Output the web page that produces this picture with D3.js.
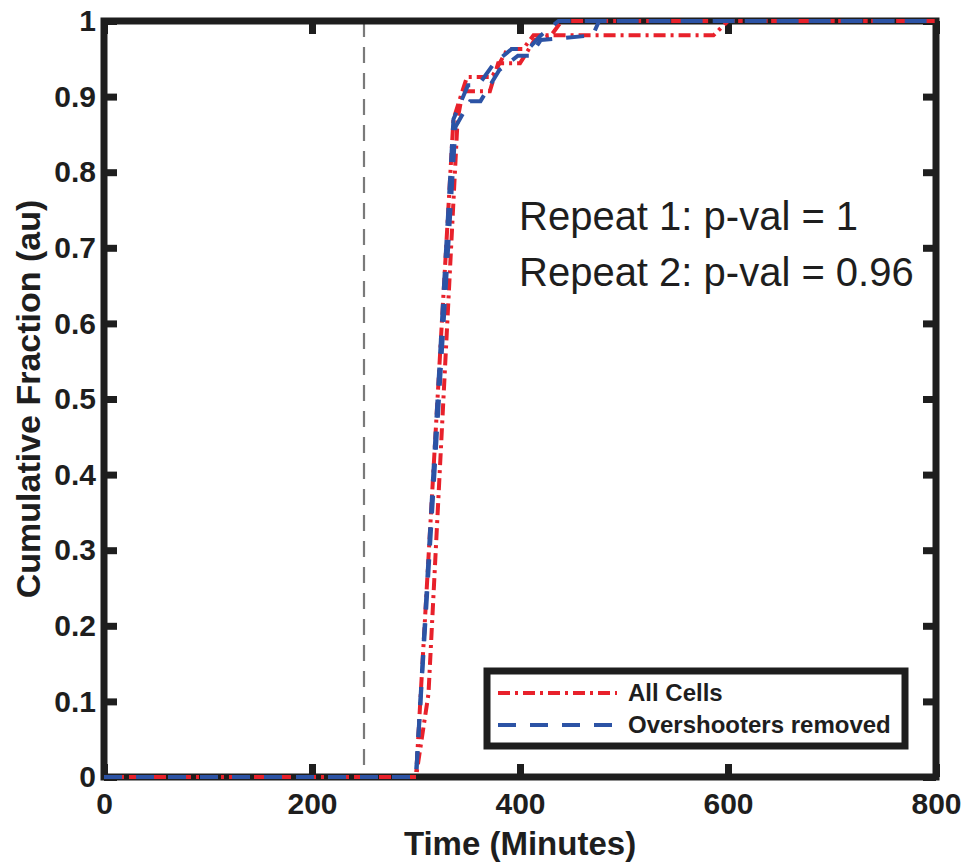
<!DOCTYPE html>
<html>
<head>
<meta charset="utf-8">
<script src="https://cdn.jsdelivr.net/npm/d3@7/dist/d3.min.js"></script>
<style>
  body { margin: 0; background: #fff; }
  svg { display: block; font-family: "Liberation Sans", Arial, sans-serif; }
</style>
</head>
<body>
<svg id="chart" width="963" height="863"></svg>
<script>
// Cumulative fraction data (two repeats per condition)
const redRep1Time = [0, 300, 336, 349, 373, 388, 403, 413, 586, 600, 800];
const redRep1Frac = [0, 0, 0.87, 0.926, 0.926, 0.963, 0.963, 0.981, 0.981, 1, 1];

const redRep2Time = [0, 300, 312, 340, 345, 371, 379, 400, 414, 430, 440, 800];
const redRep2Frac = [0, 0, 0.11, 0.87, 0.907, 0.907, 0.944, 0.944, 0.975, 0.981, 1, 1];

const blueRep1Time = [0, 300, 336, 350, 360, 375, 392, 408, 420, 437, 800];
const blueRep1Frac = [0, 0, 0.87, 0.915, 0.915, 0.944, 0.963, 0.963, 0.981, 1, 1];

const blueRep2Time = [0, 300, 338, 352, 362, 380, 398, 410, 420, 470, 476, 800];
const blueRep2Frac = [0, 0, 0.86, 0.894, 0.894, 0.935, 0.954, 0.954, 0.975, 0.981, 1, 1];

const cutoffTime = 250;
const xTicks = [0, 200, 400, 600, 800];
const yTicks = [0, 0.1, 0.2, 0.3, 0.4, 0.5, 0.6, 0.7, 0.8, 0.9, 1];
const legendLabels = ["All Cells", "Overshooters removed"];
const annotations = ["Repeat 1: p-val = 1", "Repeat 2: p-val = 0.96"];

const RED = "#e8212b";
const BLUE = "#2c53a5";
const INK = "#1e1e1e";
const redDash = "12,5,3,5";
const blueDash = "18,14";

const svg = d3.select("#chart");

const x = d3.scaleLinear().domain([0, 800]).range([104, 936]);
const y = d3.scaleLinear().domain([0, 1]).range([777, 21]);

// dashed cutoff line
svg.append("line")
    .attr("x1", x(cutoffTime)).attr("x2", x(cutoffTime))
    .attr("y1", y(1)).attr("y2", y(0))
    .attr("stroke", "#7a7a7a")
    .attr("stroke-width", 2.2)
    .attr("stroke-dasharray", "16,10");

// axes (ticks pointing inward, box style)
const axisB = svg.append("g")
    .attr("transform", `translate(0,${y(0)})`)
    .call(d3.axisBottom(x).tickValues(xTicks).tickSize(-13).tickPadding(16).tickFormat(d3.format("d")));
const axisT = svg.append("g")
    .attr("transform", `translate(0,${y(1)})`)
    .call(d3.axisTop(x).tickValues(xTicks).tickSize(-13).tickFormat(""));
const axisL = svg.append("g")
    .attr("transform", `translate(${x(0)},0)`)
    .call(d3.axisLeft(y).tickValues(yTicks).tickSize(-13).tickPadding(8)
        .tickFormat(d => (d === 0 || d === 1) ? String(d) : d.toFixed(1)));
const axisR = svg.append("g")
    .attr("transform", `translate(${x(800)},0)`)
    .call(d3.axisRight(y).tickValues(yTicks).tickSize(-13).tickFormat(""));

[axisB, axisT, axisL, axisR].forEach(g => {
    g.select(".domain").remove();
    g.selectAll(".tick line").attr("stroke", INK).attr("stroke-width", 7);
    g.selectAll(".tick text")
        .attr("fill", INK)
        .style("font-size", "30px")
        .style("font-weight", "bold");
});

svg.append("rect")
    .attr("x", x(0)).attr("y", y(1))
    .attr("width", x(800) - x(0)).attr("height", y(0) - y(1))
    .attr("fill", "none")
    .attr("stroke", INK)
    .attr("stroke-width", 7);

// curves (drawn over the box, like the original)
const line = d3.line().x(d => x(d[0])).y(d => y(d[1]));
const series = [
    { t: redRep1Time, f: redRep1Frac, color: RED, dash: redDash },
    { t: redRep2Time, f: redRep2Frac, color: RED, dash: redDash },
    { t: blueRep1Time, f: blueRep1Frac, color: BLUE, dash: blueDash },
    { t: blueRep2Time, f: blueRep2Frac, color: BLUE, dash: blueDash }
];

svg.append("g")
    .selectAll("path")
    .data(series)
    .join("path")
    .attr("d", s => line(s.t.map((t, i) => [t, s.f[i]])))
    .attr("fill", "none")
    .attr("stroke", s => s.color)
    .attr("stroke-width", 4)
    .attr("stroke-dasharray", s => s.dash);

// axis titles
svg.append("text")
    .attr("x", x(400)).attr("y", 855)
    .attr("text-anchor", "middle")
    .attr("fill", INK)
    .style("font-size", "33px").style("font-weight", "bold")
    .text("Time (Minutes)");

svg.append("text")
    .attr("transform", `translate(40,${y(0.5)}) rotate(-90)`)
    .attr("text-anchor", "middle")
    .attr("fill", INK)
    .style("font-size", "34px").style("font-weight", "bold")
    .text("Cumulative Fraction (au)");

// p-value annotation
svg.append("g")
    .selectAll("text")
    .data(annotations)
    .join("text")
    .attr("x", 519)
    .attr("y", (d, i) => 230 + i * 56)
    .attr("fill", INK)
    .style("font-size", "40px")
    .text(d => d);

// legend
const legend = svg.append("g");
legend.append("rect")
    .attr("x", 487).attr("y", 671)
    .attr("width", 418).attr("height", 75)
    .attr("fill", "#fff")
    .attr("stroke", INK)
    .attr("stroke-width", 7);

const legendItems = [
    { label: legendLabels[0], color: RED, dash: redDash, yy: 693 },
    { label: legendLabels[1], color: BLUE, dash: blueDash, yy: 725 }
];
legendItems.forEach(item => {
    legend.append("line")
        .attr("x1", 498).attr("x2", 617)
        .attr("y1", item.yy).attr("y2", item.yy)
        .attr("stroke", item.color)
        .attr("stroke-width", 4)
        .attr("stroke-dasharray", item.dash);
    legend.append("text")
        .attr("x", 628).attr("y", item.yy + 8)
        .attr("fill", INK)
        .style("font-size", "24px").style("font-weight", "bold")
        .text(item.label);
});
</script>
</body>
</html>
